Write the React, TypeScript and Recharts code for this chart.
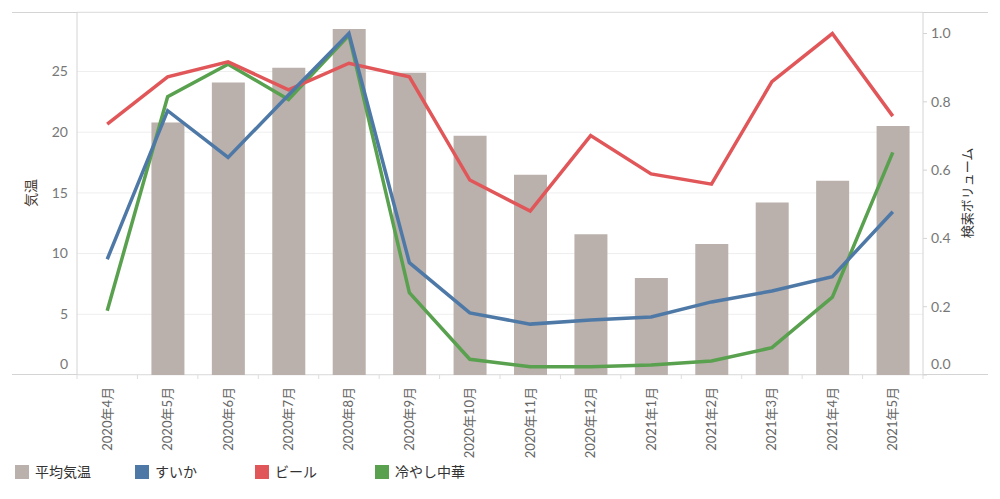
import { ComposedChart, Bar, Line, XAxis, YAxis, CartesianGrid } from "recharts";

const months = [
  "2020年4月", "2020年5月", "2020年6月", "2020年7月", "2020年8月", "2020年9月", "2020年10月",
  "2020年11月", "2020年12月", "2021年1月", "2021年2月", "2021年3月", "2021年4月", "2021年5月",
];

// 平均気温 (left axis)
const avgTemp = [null, 20.8, 24.1, 25.3, 28.5, 24.9, 19.7, 16.5, 11.6, 8.0, 10.8, 14.2, 16.0, 20.5];
// search volume (right axis)
const suika = [0.339, 0.774, 0.637, 0.82, 1.0, 0.329, 0.182, 0.149, 0.161, 0.17, 0.214, 0.246, 0.288, 0.478];
const beer = [0.735, 0.873, 0.917, 0.835, 0.913, 0.873, 0.571, 0.48, 0.701, 0.589, 0.559, 0.859, 1.0, 0.758];
const hiyashi = [0.188, 0.815, 0.91, 0.807, 0.995, 0.241, 0.046, 0.024, 0.024, 0.029, 0.041, 0.08, 0.228, 0.652];

const tempTicks = [0, 5, 10, 15, 20, 25];
const volTicks = [0, 0.2, 0.4, 0.6, 0.8, 1.0];

const FONT = "Lato, 'Noto Sans CJK JP', sans-serif";
const BAND = 846 / 14;

const legendItems = [
  { name: "平均気温", color: "#BAB0AC" },
  { name: "すいか", color: "#4E79A7" },
  { name: "ビール", color: "#E15759" },
  { name: "冷やし中華", color: "#59A14F" },
];

const data = months.map((m, i) => ({
  month: m,
  temp: avgTemp[i],
  suika: suika[i],
  beer: beer[i],
  hiyashi: hiyashi[i],
}));

function YTick(props: any) {
  const { x, y, payload, textAnchor, digits } = props;
  const v = payload.value;
  const dy = v === 0 ? -11 : 0;
  return (
    <text x={x} y={y + dy} dy="0.35em" textAnchor={textAnchor} fill="#777" fontSize={14} fontFamily={FONT}>
      {digits ? Number(v).toFixed(1) : v}
    </text>
  );
}

function XTick(props: any) {
  const { x, y, payload, index } = props;
  return (
    <g>
      <line x1={x - BAND / 2} x2={x - BAND / 2} y1={375} y2={379} stroke="#ddd" />
      {index === months.length - 1 && (
        <line x1={x + BAND / 2} x2={x + BAND / 2} y1={375} y2={379} stroke="#ddd" />
      )}
      <text
        x={x}
        y={y + 2}
        dy="0.35em"
        textAnchor="end"
        transform={`rotate(-90 ${x} ${y + 2})`}
        fill="#666"
        fontSize={13}
        fontFamily={FONT}
      >
        {payload.value}
      </text>
    </g>
  );
}

function axisTitle(text: string, x: number, color: string, size: number) {
  return () => (
    <text
      x={x}
      y={193}
      dy="0.35em"
      textAnchor="middle"
      transform={`rotate(-90 ${x} 193)`}
      fill={color}
      fontSize={size}
      fontFamily={FONT}
    >
      {text}
    </text>
  );
}

export default function App() {
  return (
    <div style={{ position: "absolute", left: 0, top: 0, width: 1000, height: 499, background: "#fff", fontFamily: FONT }}>
      <div style={{ position: "absolute", left: 12, top: 12, width: 976, height: 1, background: "#d4d4d4" }} />
      <div style={{ position: "absolute", left: 12, top: 374, width: 976, height: 1, background: "#d4d4d4" }} />
      <ComposedChart
        width={1000}
        height={460}
        data={data}
        margin={{ top: 12, right: 0, bottom: 0, left: 17 }}
        style={{ position: "absolute", left: 0, top: 0 }}
      >
        <CartesianGrid yAxisId="left" horizontal vertical={false} stroke="#eeeeee" />
        <XAxis
          dataKey="month"
          height={85}
          axisLine={false}
          tickLine={false}
          interval={0}
          tick={<XTick />}
          tickMargin={4}
        />
        <YAxis
          yAxisId="left"
          width={60}
          domain={[0, 29.9]}
          ticks={tempTicks}
          axisLine={{ stroke: "#d4d4d4" }}
          tickLine={false}
          tickSize={6}
          tickMargin={3}
          tick={<YTick />}
          label={{ content: axisTitle("気温", 31, "#4a3c34", 14) }}
        />
        <YAxis
          yAxisId="right"
          orientation="right"
          width={77}
          domain={[0, 1.063]}
          ticks={volTicks}
          axisLine={{ stroke: "#d4d4d4" }}
          tickLine={{ stroke: "#d4d4d4" }}
          tickSize={4}
          tickMargin={4}
          tick={<YTick digits />}
          label={{ content: axisTitle("検索ボリューム", 967, "#333", 13) }}
        />
        <Bar yAxisId="left" dataKey="temp" fill="#BAB0AC" barSize={33} isAnimationActive={false} />
        <Line yAxisId="right" type="linear" dataKey="hiyashi" stroke="#59A14F" strokeWidth={3.5} dot={false} activeDot={false} isAnimationActive={false} />
        <Line yAxisId="right" type="linear" dataKey="beer" stroke="#E15759" strokeWidth={3.5} dot={false} activeDot={false} isAnimationActive={false} />
        <Line yAxisId="right" type="linear" dataKey="suika" stroke="#4E79A7" strokeWidth={3.5} dot={false} activeDot={false} isAnimationActive={false} />
      </ComposedChart>
      {legendItems.map((item, i) => (
        <div key={item.name} style={{ position: "absolute", left: 15 + i * 120, top: 465, display: "flex", alignItems: "center" }}>
          <div style={{ width: 14, height: 14, background: item.color, marginRight: 6 }} />
          <span style={{ fontSize: 14, color: "#333", lineHeight: "14px" }}>{item.name}</span>
        </div>
      ))}
    </div>
  );
}
